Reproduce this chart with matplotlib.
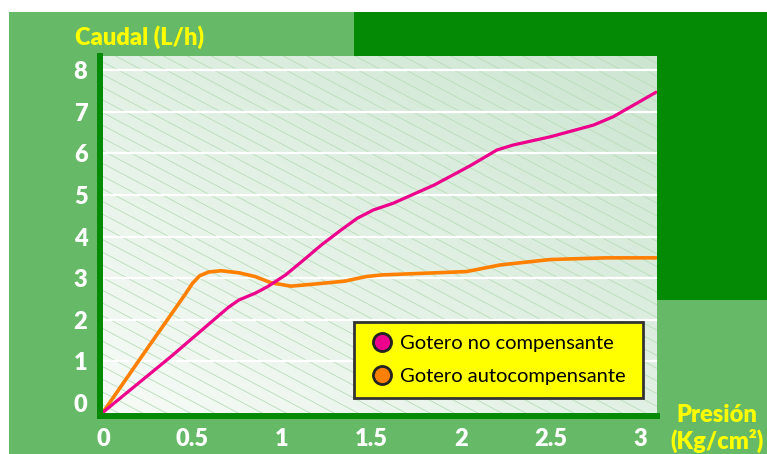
import numpy as np
import matplotlib
matplotlib.use("Agg")
import matplotlib.pyplot as plt
from matplotlib.patches import Rectangle
from matplotlib.lines import Line2D

plt.rcParams["font.family"] = ["Lato", "DejaVu Sans"]

# datos (presion en Kg/cm2, caudal en L/h)
presion_no_comp = [0.0, 0.38, 0.70, 0.76, 0.85, 0.92, 1.02, 1.11, 1.22, 1.33, 1.42,
                   1.51, 1.62, 1.85, 2.05, 2.20, 2.29, 2.50, 2.74, 2.85, 3.09]
caudal_no_comp = [-0.22, 1.12, 2.30, 2.48, 2.64, 2.80, 3.08, 3.40, 3.80, 4.16, 4.44,
                  4.64, 4.80, 5.24, 5.70, 6.08, 6.20, 6.40, 6.68, 6.88, 7.47]

presion_auto = [0.0, 0.25, 0.46, 0.50, 0.54, 0.59, 0.66, 0.76, 0.85, 0.94, 1.05, 1.18,
                1.35, 1.47, 1.56, 2.03, 2.22, 2.50, 2.81, 3.09]
caudal_auto = [-0.22, 1.33, 2.62, 2.88, 3.06, 3.15, 3.18, 3.13, 3.04, 2.89, 2.81, 2.86,
               2.93, 3.04, 3.08, 3.16, 3.32, 3.45, 3.49, 3.49]

xticks = [0, 0.5, 1, 1.5, 2, 2.5, 3]
xtick_labels = ["0", "0.5", "1", "1.5", "2", "2.5", "3"]
yticks = [0, 1, 2, 3, 4, 5, 6, 7, 8]

series_names = ["Gotero no compensante", "Gotero autocompensante"]
series_colors = ["#ec008c", "#ff8000"]

W, H = 767, 454
fig = plt.figure(figsize=(W / 100, H / 100), dpi=100, facecolor="white")

# fondo verde claro y bloque verde oscuro
fig.patches.append(Rectangle((9 / W, 0), 1 - 9 / W, 442 / H, transform=fig.transFigure,
                             facecolor="#66b966", edgecolor="none", zorder=-10))
fig.patches.append(Rectangle((354 / W, 154 / H), 1 - 354 / W, 288 / H, transform=fig.transFigure,
                             facecolor="#058a05", edgecolor="none", zorder=-9))

ax_l, ax_r, ax_t, ax_b = 100, 657, 56, 416
ax = fig.add_axes([ax_l / W, 1 - ax_b / H, (ax_r - ax_l) / W, (ax_b - ax_t) / H])
ax.set_facecolor("none")

# degradado del area de trazado
gx, gy = np.meshgrid(np.linspace(0, 1, 200), np.linspace(0, 1, 200))
t = (gx + gy) / 2
c0 = np.array([0.97, 0.985, 0.97])
c1 = np.array([0.80, 0.90, 0.82])
img = c0[None, None, :] * (1 - t[..., None]) + c1[None, None, :] * t[..., None]
ax.imshow(img, extent=[0, 1, 0, 1], origin="lower", transform=ax.transAxes,
          aspect="auto", zorder=0, interpolation="bilinear")

# rayado diagonal
pw, ph = ax_r - ax_l, ax_b - ax_t
slope = 0.53
for b in np.arange(0, ph + slope * pw + 13, 12.7):
    ax.plot([0, 1], [b / ph, (b - slope * pw) / ph], transform=ax.transAxes,
            color="#b8ddb8", lw=0.6, zorder=1)

ax.set_xlim(-0.017, 3.095)
ax.set_ylim(-0.31, 8.34)

ax.hlines(yticks[1:], -0.017, 3.095, colors="white", lw=1.6, zorder=2)

ax.plot(presion_no_comp, caudal_no_comp, color=series_colors[0], lw=2.3, zorder=4,
        solid_capstyle="round", solid_joinstyle="round")
ax.plot(presion_auto, caudal_auto, color=series_colors[1], lw=2.6, zorder=3,
        solid_capstyle="round", solid_joinstyle="round")

for s in ["top", "right"]:
    ax.spines[s].set_visible(False)
for s in ["left", "bottom"]:
    ax.spines[s].set_color("#058a05")
    ax.spines[s].set_linewidth(4.3)
    ax.spines[s].set_zorder(5)

ax.set_xticks(xticks)
ax.set_xticklabels(xtick_labels)
ax.set_yticks(yticks)
ax.tick_params(length=0, labelcolor="white", labelsize=17)
ax.tick_params(axis="y", pad=9)
ax.tick_params(axis="x", pad=9)
for lab in ax.get_xticklabels() + ax.get_yticklabels():
    lab.set_fontweight("heavy")

fig.text(75 / W, 1 - 37 / H, "Caudal (L/h)", color="#ffff00", fontsize=17,
         fontweight="heavy", ha="left", va="center")
fig.text(717 / W, 1 - 415 / H, "Presión", color="#ffff00", fontsize=17,
         fontweight="heavy", ha="center", va="center")
fig.text(717 / W, 1 - 441 / H, "(Kg/cm²)", color="#ffff00", fontsize=17,
         fontweight="heavy", ha="center", va="center")

handles = [Line2D([], [], ls="none", marker="o", markersize=13, markerfacecolor=c,
                  markeredgecolor="#222222", markeredgewidth=2) for c in series_colors]
leg = fig.legend(handles, series_names, loc="lower left", mode="expand",
                 bbox_to_anchor=(354 / W, 1 - 398 / H, 289 / W, 77 / H),
                 bbox_transform=fig.transFigure,
                 borderaxespad=0, fontsize=14.5, frameon=True, fancybox=False,
                 facecolor="#ffff00", edgecolor="#333333", framealpha=1,
                 handletextpad=0.15, labelspacing=0.8, borderpad=0.65, handlelength=1.5)
leg.get_frame().set_linewidth(2)

fig.savefig("out.png", dpi=100, facecolor="white")
